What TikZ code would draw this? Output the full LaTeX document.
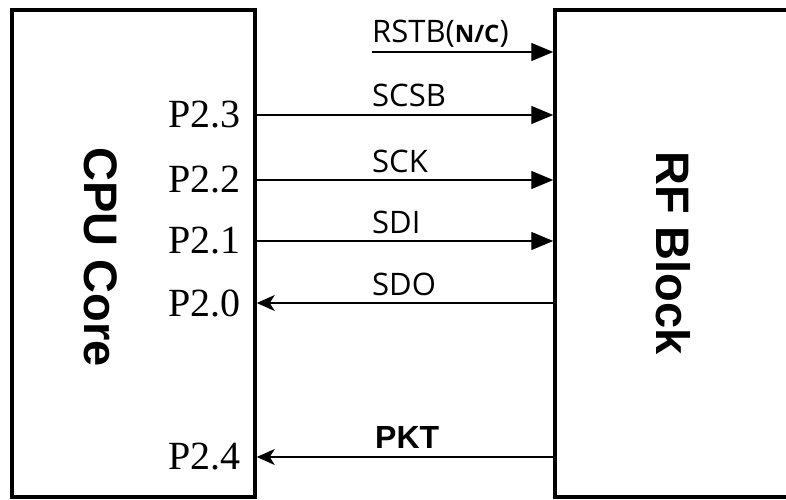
\documentclass[tikz,border=0pt]{standalone}
\usepackage{fontspec}
\setmainfont{Liberation Serif}
\newfontfamily\sigfont{Open Sans}
\newfontfamily\blkfont{Liberation Sans}
\usetikzlibrary{arrows.meta}

\begin{document}
\begin{tikzpicture}[x=1pt,y=1pt,
    blockbox/.style={draw, line width=3.5pt, inner sep=0pt},
    blocklbl/.style={rotate=-90, font=\blkfont\bfseries\fontsize{47}{47}\selectfont},
    pinlbl/.style={anchor=east, font=\fontsize{40}{40}\selectfont},
    siglbl/.style={anchor=base west, inner sep=0pt, font=\sigfont\fontsize{31}{31}\selectfont},
    sigin/.style={line width=1.3pt, -{Triangle[length=22pt,width=18pt]}},
    sigout/.style={line width=1.3pt, -{Stealth[length=18pt,width=16pt,inset=5pt]}}]
                \useasboundingbox (0,0) rectangle (786,499);
                \clip (0,0) rectangle (786,499);

                \node[blockbox, minimum width=243pt, minimum height=487pt] (cpu) at (133.5,245.5) {};
                \node[blockbox, minimum width=295pt, minimum height=487pt] (rf) at (702.5,245.5) {};
                \node[blocklbl] (cpulbl) at (101,242) {CPU Core};
                \node[blocklbl] (rflbl) at (673,246) {RF Block};

                \node[pinlbl] (p23) at (244,384) {P2.3};
                \node[pinlbl] (p22) at (244,319) {P2.2};
                \node[pinlbl] (p21) at (244,258) {P2.1};
                \node[pinlbl] (p20) at (244,196) {P2.0};
                \node[pinlbl] (p24) at (244,42) {P2.4};

                \coordinate (rstbin) at (372,447);
                \draw[sigin] (rstbin) -- (rstbin -| rf.west);
                \draw[sigin] (cpu.east |- p23) -- (rf.west |- p23);
                \draw[sigin] (cpu.east |- p22) -- (rf.west |- p22);
                \draw[sigin] (cpu.east |- p21) -- (rf.west |- p21);
                \draw[sigout] (rf.west |- p20) -- (cpu.east |- p20);
                \draw[sigout] (rf.west |- p24) -- (cpu.east |- p24);

                \node[siglbl] (rstb) at (372,456) {RSTB({\bfseries\fontsize{24}{24}\selectfont N/C})};
                \node[siglbl] (scsb) at (372,392) {SCSB};
                \node[siglbl] (sck) at (372,327) {SCK};
                \node[siglbl] (sdi) at (372,266) {SDI};
                \node[siglbl] (sdo) at (372,204) {SDO};
                \node[siglbl, font=\blkfont\bfseries\fontsize{32}{32}\selectfont] (pkt) at (375,51) {PKT};
            \end{tikzpicture}
\end{document}
